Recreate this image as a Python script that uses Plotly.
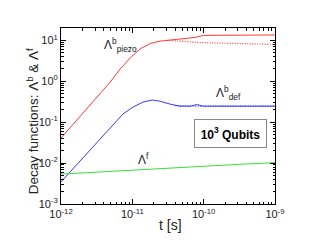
import plotly.graph_objects as go

# log10(t) sample points and log10(Lambda)
piezo_logt = [-12.0, -11.7, -11.45, -11.31, -11.17, -11.03, -10.89, -10.75, -10.61, -10.51,
              -10.33, -10.12, -10.0, -9.5, -9.0]
piezo_logy = [-1.39, -0.79, -0.30, -0.02, 0.30, 0.57, 0.79, 0.92, 0.98, 1.0,
              1.02, 1.07, 1.12, 1.13, 1.13]

piezo_dot_logt = [-10.51, -10.3, -10.0, -9.5, -9.0]
piezo_dot_logy = [1.0, 0.97, 0.94, 0.92, 0.90]

def_logt = [-12.0, -11.6, -11.31, -11.13, -10.99, -10.85, -10.72, -10.61, -10.47,
            -10.33, -10.19, -10.09, -10.01, -9.5, -9.0]
def_logy = [-2.46, -1.70, -1.14, -0.80, -0.63, -0.51, -0.46, -0.49, -0.56,
            -0.61, -0.61, -0.57, -0.61, -0.61, -0.61]

def_dot_logt = [-10.4, -10.2, -10.0, -9.5, -9.0]
def_dot_logy = [-0.60, -0.61, -0.61, -0.61, -0.61]

f_logt = [-12.0, -11.5, -11.0, -10.5, -10.0, -9.5, -9.0]
f_logy = [-2.27, -2.22, -2.17, -2.12, -2.07, -2.03, -1.99]

x_ticks = [-12, -11, -10, -9]
y_ticks = [-3, -2, -1, 0, 1]


def pw(v):
    return [10.0 ** a for a in v]


fig = go.Figure()
fig.add_trace(go.Scatter(x=pw(piezo_logt), y=pw(piezo_logy), mode="lines",
                         line=dict(color="#ff3838", width=1)))
fig.add_trace(go.Scatter(x=pw(piezo_dot_logt), y=pw(piezo_dot_logy), mode="lines",
                         line=dict(color="#ff3838", width=1.2, dash="1px,1.5px")))
fig.add_trace(go.Scatter(x=pw(def_logt), y=pw(def_logy), mode="lines",
                         line=dict(color="#3838ff", width=1)))
fig.add_trace(go.Scatter(x=pw(def_dot_logt), y=pw(def_dot_logy), mode="lines",
                         line=dict(color="#3838ff", width=1.2, dash="1px,1.5px")))
fig.add_trace(go.Scatter(x=pw(f_logt), y=pw(f_logy), mode="lines",
                         line=dict(color="#38e038", width=1)))

minor_x = [10.0 ** d * k for d in range(-12, -9) for k in range(2, 10)]
minor_y = [10.0 ** d * k for d in range(-3, 2) for k in range(2, 10)]

axis_common = dict(
    type="log", showgrid=False, zeroline=False, automargin=False,
    showline=True, linecolor="black", linewidth=1, mirror="ticks",
    ticks="inside", ticklen=5, tickcolor="black",
    tickfont=dict(size=11, color="#222"),
)

fig.update_xaxes(
    range=[-12, -9],
    tickvals=[10.0 ** v for v in x_ticks],
    ticktext=[f"10<sup>{v}</sup>" for v in x_ticks],
    minor=dict(ticks="inside", ticklen=2.5, tickcolor="black", tickvals=minor_x),
    **axis_common,
)
fig.update_yaxes(
    range=[-3, 1.3],
    tickvals=[10.0 ** v for v in y_ticks],
    ticktext=[f"10<sup>{v}</sup>" for v in y_ticks],
    minor=dict(ticks="inside", ticklen=2.5, tickcolor="black", tickvals=minor_y),
    **axis_common,
)

# axis titles as annotations for exact placement
fig.add_annotation(xref="paper", yref="paper", x=-0.131, y=0.47, textangle=-90,
                   text="Decay functions: Λ<sup>b</sup> & Λ<sup>f</sup>",
                   showarrow=False, xanchor="center", yanchor="middle",
                   font=dict(size=13.5, color="#222"))
fig.add_annotation(xref="paper", yref="paper", x=0.51, y=-0.12,
                   text="t [s]", showarrow=False, xanchor="center", yanchor="middle",
                   font=dict(size=14, color="#222"))

lab = dict(size=12, color="#222")
fig.add_annotation(x=-11.42, y=0.88, text="Λ<sup>b</sup><sub>piezo</sub>",
                   showarrow=False, xanchor="left", yanchor="middle", font=lab)
fig.add_annotation(x=-9.86, y=-0.29, text="Λ<sup>b</sup><sub>def</sub>",
                   showarrow=False, xanchor="left", yanchor="middle", font=lab)
fig.add_annotation(x=-10.95, y=-1.90, text="Λ<sup>f</sup>",
                   showarrow=False, xanchor="left", yanchor="middle", font=lab)
fig.add_annotation(x=-9.624, y=-1.28, text="<b>10<sup>3</sup> Qubits</b>",
                   showarrow=False, font=dict(size=12, color="black"),
                   bordercolor="#888", borderwidth=1, borderpad=3,
                   bgcolor="white", width=65, height=21)

# page body adds an 8px offset, so margins are shifted to compensate
fig.update_layout(
    width=320, height=240,
    margin=dict(l=53, r=53, t=20, b=44),
    paper_bgcolor="white", plot_bgcolor="white",
    showlegend=False,
    font=dict(family="Liberation Sans, Arial, sans-serif"),
)

fig.write_html("out.html")
